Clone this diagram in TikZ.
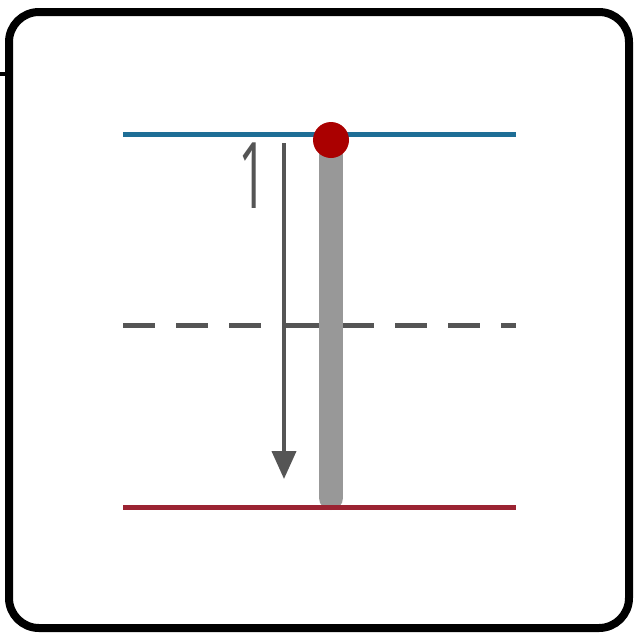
\documentclass[tikz,border=0pt]{standalone}
\usepackage{fontspec}
\newfontfamily\labfont{Open Sans}
\usetikzlibrary{arrows.meta}
\definecolor{topblue}{RGB}{30,110,150}
\definecolor{botred}{RGB}{155,35,50}
\definecolor{dotred}{RGB}{170,0,0}
\definecolor{bargray}{RGB}{152,152,152}
\definecolor{darkgray}{RGB}{85,85,85}
\tikzset{
  frame/.style={line width=8pt, rounded corners=30pt, black},
  level/.style={line width=5pt},
  dashlevel/.style={line width=5pt, darkgray, dash pattern=on 32pt off 21pt},
  bar/.style={line width=24pt, bargray, line cap=round},
  fallarrow/.style={line width=4pt, darkgray, -{Triangle[length=28pt,width=24pt]}},
  dot/.style={circle, fill=dotred, minimum size=36pt, inner sep=0pt},
  lab/.style={anchor=base, inner sep=0pt, text=darkgray, font=\labfont\fontsize{92}{92}\selectfont}
}
\begin{document}
\begin{tikzpicture}[x=1pt,y=-1pt]
\useasboundingbox (0,0) rectangle (634,638);
\draw[frame] (9,12) rectangle (629,628);
\draw[line width=4pt] (0,74) -- (6,74);
% levels
\coordinate (bl) at (123,134);
\coordinate (br) at (516,134);
\coordinate (rl) at (123,507);
\coordinate (rr) at (516,507);
\coordinate (dl1) at (123,325);
\coordinate (dl2) at (263,325);
\coordinate (dr1) at (342,325);
\coordinate (dr2) at (516,325);
\coordinate (ds1) at (284,325);
\coordinate (ds2) at (320,325);
\draw[level, topblue] (bl) -- (br);
\draw[dashlevel] (dl1) -- (dl2);
\draw[dashlevel] (dr1) -- (dr2);
\draw[line width=5pt, darkgray] (ds1) -- (ds2);
% bar
\coordinate (bt) at (331,150);
\coordinate (bb) at (331,498);
\draw[bar] (bt) -- (bb);
\draw[level, botred] (rl) -- (rr);
\node[dot] (d) at (331,140) {};
% arrow
\coordinate (as) at (284,143);
\coordinate (ae) at (284,479);
\draw[fallarrow] (as) -- (ae);
\node[lab] (one) at (253,208) {\scalebox{0.55}[1]{1}};
\end{tikzpicture}
\end{document}
